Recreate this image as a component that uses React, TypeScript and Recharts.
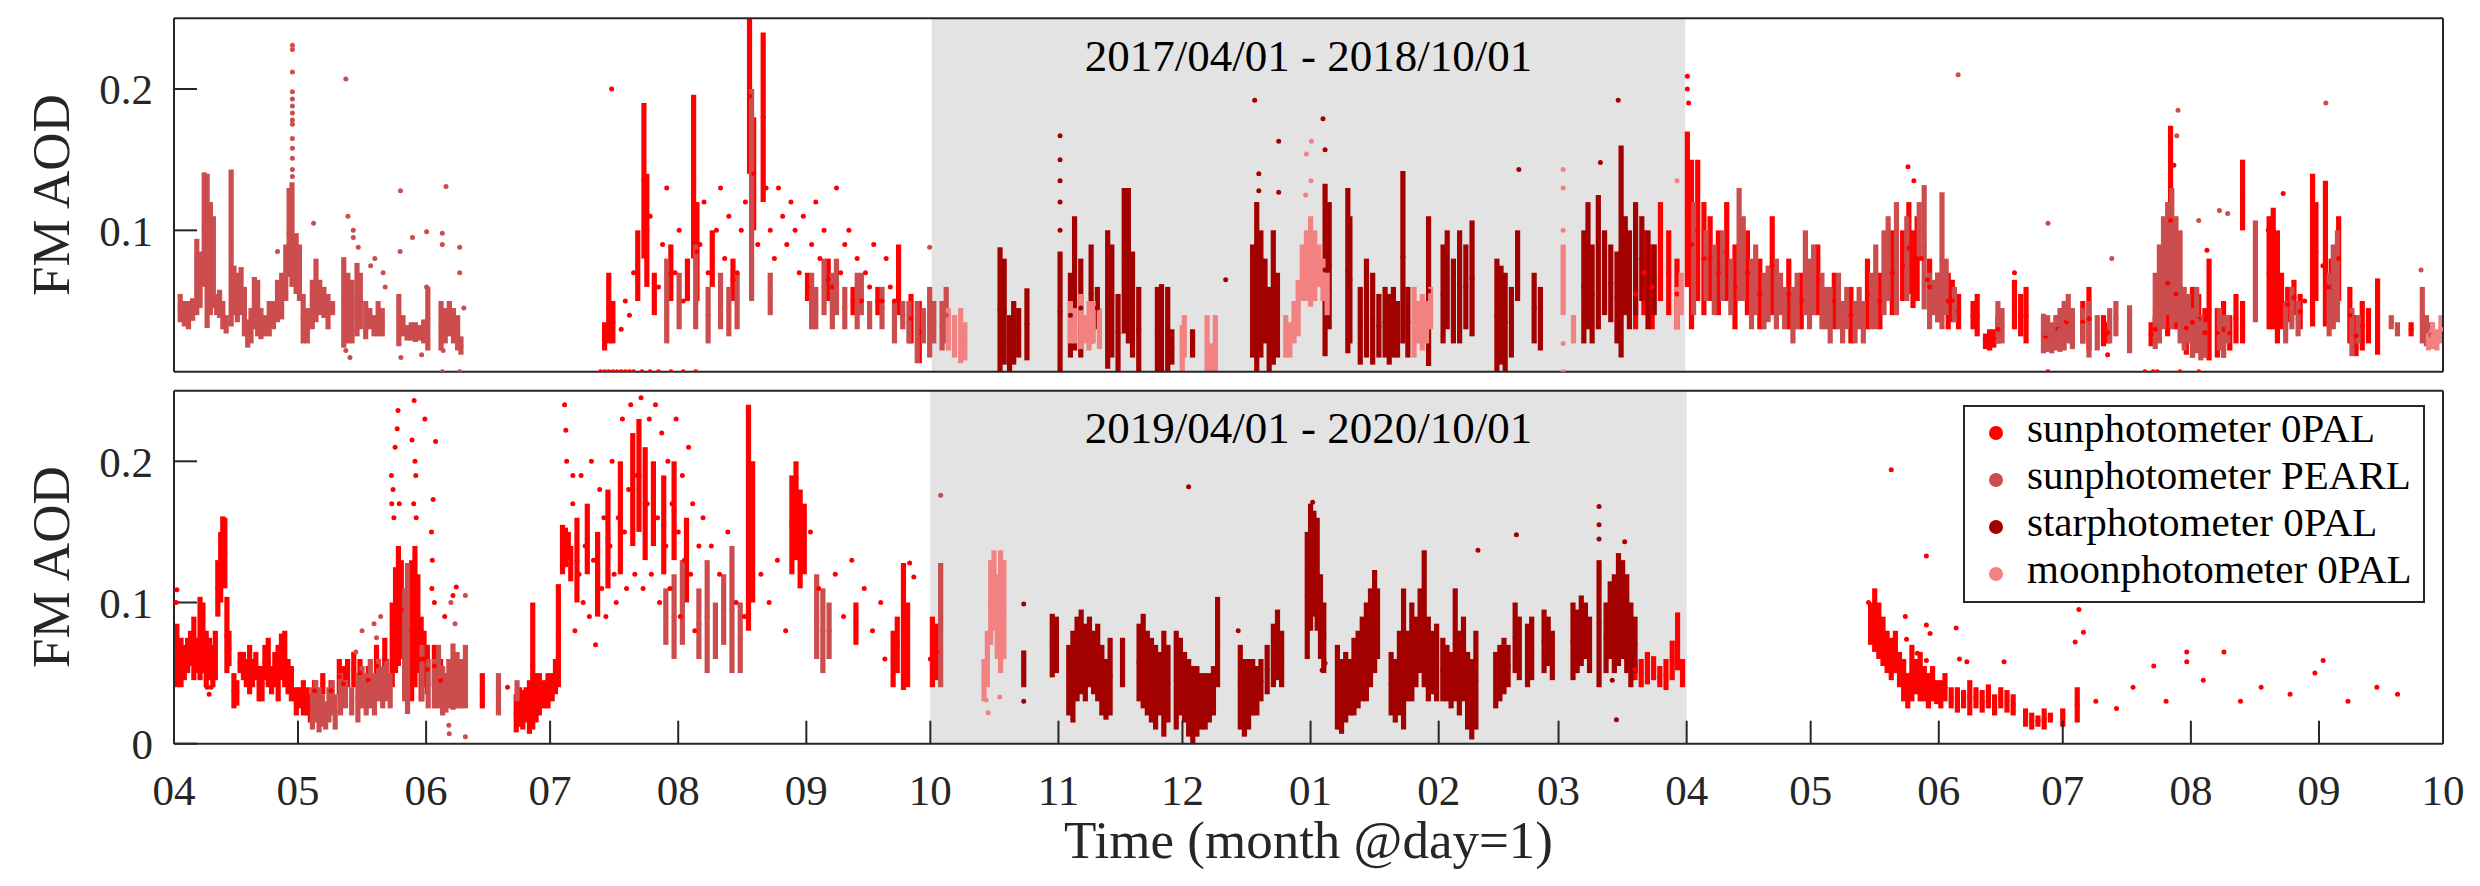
import { ScatterChart, Scatter, XAxis, YAxis, ErrorBar, ReferenceArea, Legend } from 'recharts'

const FONT = "'Liberation Serif', 'Times New Roman', serif"
const INK = '#262626'

const SUN_0PAL = '#ff0000'
const SUN_PEARL = '#cc4d4d'
const STAR_0PAL = '#a30000'
const MOON_0PAL = '#f28282'

const monthLabels = ['04', '05', '06', '07', '08', '09', '10', '11', '12', '01', '02', '03', '04', '05', '06', '07', '08', '09', '10']
const monthDays2017 = [30, 31, 30, 31, 31, 30, 31, 30, 31, 31, 28, 31, 30, 31, 30, 31, 31, 30]
const monthDays2019 = [30, 31, 30, 31, 31, 30, 31, 30, 31, 31, 29, 31, 30, 31, 30, 31, 31, 30]

const instruments = [
  { name: 'sunphotometer 0PAL', color: SUN_0PAL },
  { name: 'sunphotometer PEARL', color: SUN_PEARL },
  { name: 'starphotometer 0PAL', color: STAR_0PAL },
  { name: 'moonphotometer 0PAL', color: MOON_0PAL },
]

// each entry: [day since 04/01, low AOD, high AOD]; a single reading has no high value
type Obs = number[]

// ---- 2017/04/01 - 2018/10/01 ----
const topSun: Obs[] = [
  [103, 0], [104, 0], [105, 0], [106, 0], [107, 0], [108, 0], [109, 0], [110, 0], [111, 0], [113, 0], [115, 0], [117, 0], [120, 0], [123, 0], [126, 0],
  [104, 0.015, 0.035], [105, 0.02, 0.07], [106, 0.02, 0.05], [105.7, 0.2],
  [112, 0.05, 0.1], [113.5, 0.08, 0.19], [114.2, 0.06, 0.14], [116, 0.04, 0.07], [120, 0.05, 0.09], [124, 0.05, 0.08], [125.5, 0.08, 0.196],
  [126.3, 0.05, 0.12], [130, 0.06, 0.1], [135, 0.05, 0.08], [139, 0.14, 0.25], [140, 0.1, 0.18], [142.3, 0.12, 0.24], [153, 0.05, 0.07],
  [158, 0.05, 0.08], [164, 0.04, 0.06], [170, 0.04, 0.06], [175, 0.04, 0.09], [178, 0.02, 0.055], [180, 0.006, 0.05],
  [108, 0.03], [109, 0.05], [110, 0.04], [111, 0.07], [115, 0.11], [117, 0.06], [118, 0.09], [119, 0.13], [121, 0.07], [122, 0.1], [123, 0.05],
  [127, 0.09], [128, 0.12], [129, 0.07], [131, 0.1], [132, 0.13], [133, 0.08], [134, 0.11], [136, 0.07], [137, 0.1], [138, 0.12], [141, 0.09],
  [143, 0.13], [144, 0.1], [145, 0.08], [146, 0.13], [147, 0.11], [148, 0.09], [149, 0.12], [150, 0.1], [151, 0.07], [152, 0.11], [154, 0.09],
  [155, 0.12], [156, 0.08], [157, 0.1], [159, 0.06], [160, 0.13], [161, 0.07], [162, 0.09], [163, 0.1], [165, 0.08], [166, 0.05], [167, 0.07],
  [168, 0.06], [169, 0.09], [171, 0.05], [172, 0.08], [173, 0.06], [174, 0.05],
  [353, 0.03, 0.08], [355, 0.04, 0.1], [357, 0.03, 0.09], [359, 0.05, 0.12], [361, 0.04, 0.1], [363, 0.03, 0.08], [365.5, 0.06, 0.17], [366.5, 0.03, 0.15],
  [365.5, 0.2], [365.5, 0.209], [365.8, 0.19],
  [368, 0.05, 0.15], [369.5, 0.04, 0.12], [371, 0.05, 0.11], [373, 0.04, 0.1], [375, 0.05, 0.12], [377, 0.03, 0.09], [380, 0.04, 0.1], [383, 0.03, 0.08],
  [386, 0.04, 0.11], [390, 0.03, 0.08], [393, 0.03, 0.07], [397, 0.04, 0.09], [401, 0.03, 0.07], [405, 0.02, 0.06], [409, 0.03, 0.08], [412, 0.03, 0.07],
  [415, 0.04, 0.1],
  [417.5, 0.05, 0.1], [419, 0.055, 0.12], [420, 0.045, 0.1], [421, 0.05, 0.11], [418.8, 0.145], [420.2, 0.135], [424, 0.04, 0.08], [426, 0.035, 0.07],
  [428.5, 0.03, 0.07], [429.5, 0.035, 0.065], [431, 0.03, 0.055], [434.5, 0.03, 0.05], [435.5, 0.025, 0.055], [437.5, 0.016, 0.027], [438.5, 0.015, 0.03],
  [439.5, 0.017, 0.03], [440.5, 0.02, 0.04], [444.5, 0.03, 0.065], [446, 0.025, 0.055], [447.3, 0.02, 0.06], [452, 0.015, 0.035], [455, 0.02, 0.04],
  [457, 0.025, 0.045], [461, 0.02, 0.05], [462.5, 0.015, 0.06], [466, 0.018, 0.04], [467, 0.02, 0.035], [477.5, 0.018, 0.035], [478.5, 0.02, 0.04],
  [481.5, 0.025, 0.1], [482.2, 0.04, 0.174], [483.5, 0.03, 0.08], [486, 0.012, 0.05], [487.5, 0.01, 0.06], [489, 0.02, 0.055], [490.5, 0.01, 0.045],
  [491.5, 0.008, 0.08], [493.5, 0.01, 0.045], [495, 0.01, 0.05], [496.5, 0.015, 0.04], [498, 0.02, 0.055], [499.6, 0.1, 0.15], [499.6, 0.02, 0.05],
  [506, 0.03, 0.11], [507, 0.03, 0.116], [508, 0.02, 0.1], [509, 0.03, 0.07], [510.5, 0.035, 0.06], [512, 0.04, 0.065], [513.5, 0.03, 0.055],
  [516.5, 0.032, 0.14], [517.3, 0.05, 0.12], [519.6, 0.032, 0.135], [521, 0.04, 0.08], [522.8, 0.05, 0.11], [525.5, 0.02, 0.06], [527, 0.011, 0.04],
  [528.5, 0.015, 0.05], [530, 0.02, 0.045], [532.2, 0.012, 0.066], [540.3, 0.025, 0.035],
  [422, 0.08], [423.5, 0.065], [444.5, 0.07], [452.6, 0], [467, 0.012], [476, 0], [478, 0], [479, 0], [484.5, 0], [489, 0], [491, 0.086], [505.8, 0.1],
  [509.4, 0.126], [514.6, 0.05], [519, 0.075], [520, 0.06], [483, 0.146],
]

const topPearl: Obs[] = [
  [1.5, 0.035, 0.055], [2.5, 0.032, 0.05], [3.5, 0.03, 0.05], [4.5, 0.036, 0.052], [5.5, 0.04, 0.094], [6.3, 0.045, 0.085], [7.3, 0.06, 0.141],
  [8, 0.031, 0.14], [8.8, 0.04, 0.12], [9.5, 0.045, 0.11], [10.3, 0.04, 0.055], [11, 0.038, 0.058], [11.8, 0.03, 0.05], [12.6, 0.027, 0.04],
  [13.8, 0.032, 0.143], [14.5, 0.04, 0.075], [15.3, 0.035, 0.07], [16.2, 0.04, 0.074], [17, 0.025, 0.06], [17.8, 0.017, 0.037], [18.6, 0.02, 0.045],
  [19.4, 0.03, 0.067], [20.2, 0.025, 0.065], [21, 0.023, 0.045], [22, 0.025, 0.04], [23, 0.025, 0.05], [24, 0.03, 0.05], [25, 0.035, 0.065],
  [26, 0.037, 0.07], [27, 0.05, 0.09], [27.8, 0.067, 0.13], [28.5, 0.06, 0.134],
  [28.6, 0.231], [28.6, 0.228], [28.6, 0.212], [28.6, 0.198], [28.6, 0.193], [28.6, 0.188], [28.6, 0.183], [28.6, 0.178], [28.6, 0.175],
  [28.6, 0.165], [28.6, 0.158], [28.6, 0.151], [28.6, 0.143], [28.6, 0.138],
  [29.5, 0.055, 0.098], [30.3, 0.05, 0.09], [31.2, 0.02, 0.055], [32.2, 0.02, 0.045], [33.4, 0.03, 0.065], [34.3, 0.035, 0.08], [35.2, 0.04, 0.065],
  [36.2, 0.038, 0.06], [37.2, 0.03, 0.055], [38.3, 0.04, 0.05], [41, 0.017, 0.081], [42, 0.02, 0.07], [43, 0.02, 0.065], [44.2, 0.025, 0.077],
  [45, 0.03, 0.07], [46.3, 0.023, 0.05], [47.3, 0.03, 0.045], [48.3, 0.025, 0.04], [49.3, 0.025, 0.05], [50.3, 0.025, 0.045], [54.3, 0.018, 0.055],
  [55.3, 0.025, 0.04], [56.3, 0.022, 0.033], [57.3, 0.022, 0.035], [58.3, 0.021, 0.035], [59.3, 0.022, 0.033], [60.3, 0.02, 0.037], [61.3, 0.015, 0.06],
  [64.5, 0.015, 0.05], [65.5, 0.02, 0.045], [66.5, 0.025, 0.05], [67.5, 0.02, 0.045], [68.5, 0.015, 0.04], [69.3, 0.012, 0.025],
  [33.7, 0.105], [41.5, 0.207], [42, 0.11], [43.3, 0.1], [43.3, 0.095], [44.5, 0.088], [47.5, 0.075], [48.5, 0.08], [50.5, 0.07], [51, 0.06],
  [54.7, 0.128], [54.6, 0.085], [54.8, 0.01], [57.6, 0.095], [61, 0.099], [61, 0.06], [64.8, 0.098], [64.8, 0.09], [65.7, 0.131], [69, 0.088],
  [69, 0.07], [69, 0], [64.8, 0], [41.5, 0.015], [42.5, 0.01], [59.8, 0.012], [65, 0.015], [70, 0.045], [25, 0.085],
  [119, 0.02, 0.08], [122, 0.03, 0.07], [126, 0.03, 0.09], [129, 0.02, 0.06], [132, 0.03, 0.07], [134, 0.025, 0.06], [136, 0.03, 0.07],
  [139.5, 0.05, 0.2], [144, 0.04, 0.07], [154, 0.03, 0.07], [155, 0.03, 0.06], [157, 0.04, 0.08], [159, 0.03, 0.07], [160, 0.04, 0.08],
  [162, 0.03, 0.06], [165, 0.03, 0.07], [166, 0.04, 0.07], [168, 0.03, 0.05], [171, 0.03, 0.06], [174, 0.02, 0.05], [176, 0.03, 0.05],
  [177.5, 0.02, 0.05], [179.5, 0.006, 0.05], [181, 0.02, 0.045], [182.5, 0.01, 0.06], [183.5, 0.02, 0.05], [185.5, 0.015, 0.05], [186.5, 0.02, 0.06],
  [182.5, 0.088],
  [367, 0.04, 0.12], [370, 0.05, 0.1], [372, 0.04, 0.09], [374, 0.05, 0.1], [376, 0.04, 0.08], [378, 0.05, 0.13], [379, 0.05, 0.11], [381, 0.03, 0.08],
  [382, 0.04, 0.09], [384, 0.03, 0.07], [385, 0.035, 0.075], [387, 0.03, 0.08], [388, 0.04, 0.07], [389, 0.03, 0.06], [391, 0.02, 0.06],
  [392, 0.03, 0.07], [394, 0.04, 0.1], [395, 0.03, 0.08], [396, 0.04, 0.09], [398, 0.03, 0.07], [399, 0.03, 0.06], [400, 0.02, 0.06],
  [402, 0.03, 0.07], [403, 0.02, 0.05], [404, 0.03, 0.06], [406, 0.02, 0.05], [407, 0.03, 0.06], [408, 0.02, 0.05], [410, 0.03, 0.07],
  [411, 0.03, 0.09], [413, 0.04, 0.1], [414, 0.05, 0.11], [416, 0.04, 0.12],
  [418.5, 0.05, 0.11], [421.5, 0.08, 0.12], [422.7, 0.044, 0.132], [424, 0.03, 0.07], [425, 0.04, 0.065], [426, 0.035, 0.07], [427, 0.03, 0.127],
  [428, 0.04, 0.08], [430, 0.035, 0.06], [440.5, 0.02, 0.05], [441.5, 0.02, 0.045], [451.5, 0.013, 0.041], [452.5, 0.014, 0.04], [453.5, 0.013, 0.035],
  [454.5, 0.015, 0.04], [455.5, 0.014, 0.045], [456.5, 0.015, 0.05], [457.5, 0.02, 0.055], [458.5, 0.016, 0.045], [461, 0.02, 0.045],
  [462.5, 0.01, 0.05], [464.5, 0.015, 0.04], [467.5, 0.02, 0.045], [469, 0.025, 0.05], [472.3, 0.013, 0.047], [478.5, 0.016, 0.07],
  [479.5, 0.02, 0.09], [480.5, 0.03, 0.11], [481.5, 0.04, 0.12], [482.5, 0.03, 0.13], [483.5, 0.035, 0.11], [484.5, 0.02, 0.1], [485.5, 0.015, 0.06],
  [486.5, 0.02, 0.055], [487.5, 0.01, 0.045], [488.5, 0.013, 0.06], [489.5, 0.008, 0.04], [490.5, 0.01, 0.035], [494, 0.015, 0.045],
  [495, 0.01, 0.04], [496, 0.02, 0.04], [502.7, 0.035, 0.107], [510, 0.02, 0.05], [511.5, 0.03, 0.06], [513, 0.025, 0.05], [520.5, 0.025, 0.07],
  [521.5, 0.03, 0.09], [522.5, 0.035, 0.1], [526, 0.011, 0.045], [527.5, 0.02, 0.04], [535.5, 0.03, 0.04], [537, 0.025, 0.035], [543, 0.02, 0.06],
  [544, 0.018, 0.04], [545, 0.017, 0.035],
  [430.9, 0.21], [452.6, 0.105], [468, 0.08], [484, 0.185], [483.7, 0.167], [489, 0.107], [494, 0.114], [496, 0.112], [519.7, 0.19], [542.7, 0.072],
]

const topStar: Obs[] = [
  [199.5, 0, 0.088], [200.5, 0.005, 0.08], [201.8, 0, 0.04], [202.8, 0.005, 0.05], [204, 0.01, 0.045], [206, 0.008, 0.059],
  [214, 0, 0.085], [214, 0.1], [214, 0.12], [214, 0.135], [214, 0.15], [214, 0.167],
  [216.5, 0.01, 0.07], [217.5, 0.015, 0.11], [219, 0.01, 0.08], [221.5, 0.02, 0.09], [223, 0.03, 0.06],
  [225.5, 0.002, 0.1], [226.5, 0.01, 0.09], [228, 0, 0.055], [229.5, 0.027, 0.13], [230.5, 0.02, 0.13], [231.5, 0.01, 0.085], [233, 0, 0.06],
  [237.5, 0, 0.06], [238.5, 0, 0.062], [240, 0, 0.06], [241, 0.005, 0.03], [246, 0.01, 0.03], [254, 0.065],
  [260.5, 0.01, 0.09], [261.5, 0, 0.12], [262.5, 0.01, 0.1], [263.5, 0.02, 0.08], [264.5, 0, 0.06], [265.5, 0.005, 0.1], [266.5, 0.01, 0.07],
  [261, 0.192], [262, 0.14], [262, 0.128], [266.8, 0.163], [266.8, 0.127],
  [278, 0.011, 0.133], [279, 0.03, 0.12], [277.5, 0.179], [278, 0.157], [283.5, 0.013, 0.13], [284, 0.02, 0.11], [286.5, 0.005, 0.06],
  [288, 0.01, 0.08], [289.5, 0.005, 0.07], [291, 0.01, 0.055], [292.5, 0.01, 0.06], [293.5, 0.005, 0.055], [294.5, 0.01, 0.06], [295.5, 0.01, 0.05],
  [296.8, 0.02, 0.142], [298, 0.01, 0.06],
  [303, 0.004, 0.11], [306.5, 0.02, 0.09], [307.5, 0.03, 0.1], [309, 0.02, 0.08], [310.5, 0.02, 0.1], [312, 0.03, 0.09], [313.5, 0.025, 0.107],
  [319.5, 0, 0.08], [320.5, 0.005, 0.075], [321.5, 0, 0.07], [323, 0.01, 0.06], [324.5, 0.05, 0.1], [324.8, 0.143], [328.5, 0.02, 0.07], [330, 0.015, 0.06],
  [340.5, 0.02, 0.1], [341.5, 0.03, 0.12], [342.5, 0.02, 0.09], [344, 0.03, 0.125], [345.5, 0.04, 0.1], [347, 0.035, 0.09], [348.5, 0.02, 0.085],
  [349.5, 0.01, 0.16], [350.5, 0.04, 0.11], [351.5, 0.03, 0.1], [353, 0.04, 0.12], [354.5, 0.05, 0.11], [356, 0.03, 0.1], [357.5, 0.04, 0.09],
  [348.8, 0.192], [344.5, 0.148],
]

const topMoon: Obs[] = [
  [187, 0.015, 0.045], [188.5, 0.01, 0.04], [190, 0.006, 0.045], [191, 0.008, 0.035],
  [216.5, 0.02, 0.05], [217.5, 0.02, 0.045], [219, 0.016, 0.055], [220, 0.02, 0.04], [221, 0.015, 0.05], [222, 0.02, 0.05], [223.5, 0.016, 0.045],
  [243.5, 0, 0.033], [244, 0.01, 0.04], [249.5, 0, 0.04], [250.5, 0, 0.02], [251.5, 0, 0.04],
  [268.5, 0.01, 0.04], [269.5, 0.01, 0.035], [270.5, 0.02, 0.05], [271.5, 0.025, 0.065],
  [272.5, 0.05, 0.09], [273.5, 0.05, 0.1], [274.5, 0.046, 0.11], [275.5, 0.05, 0.1], [276.5, 0.06, 0.09], [277.5, 0.05, 0.08], [278.5, 0.04, 0.07],
  [274.7, 0.163], [273.5, 0.154], [274.6, 0.135], [273.3, 0.125],
  [299.5, 0.01, 0.06], [300.5, 0.02, 0.05], [301.5, 0.015, 0.055], [302.5, 0.02, 0.05], [303.5, 0.03, 0.06],
  [335.5, 0.04, 0.09], [335.5, 0.143], [335.5, 0.13], [335.5, 0.1], [335.5, 0.02], [335.5, 0], [338, 0.02, 0.04],
  [363, 0.03, 0.06], [364, 0.04, 0.07], [363, 0.135],
  [544.5, 0.015, 0.03], [545.5, 0.016, 0.035], [546.5, 0.015, 0.03], [547.5, 0.02, 0.04],
]

// ---- 2019/04/01 - 2020/10/01 ----
const botSun: Obs[] = [
  [0.7, 0.04, 0.085], [1.7, 0.04, 0.075], [0.7, 0.109], [0.5, 0.1],
  [2.5, 0.045, 0.07], [3.3, 0.05, 0.075], [4, 0.055, 0.08], [4.8, 0.045, 0.09], [5.5, 0.05, 0.075], [6.3, 0.045, 0.104], [7, 0.05, 0.1],
  [7.8, 0.04, 0.08], [8.6, 0.045, 0.075], [9.4, 0.04, 0.07], [10, 0.045, 0.08], [8, 0.04], [8.5, 0.035], [9, 0.04],
  [10.6, 0.09, 0.13], [11.3, 0.1, 0.15], [11.8, 0.12, 0.161], [12.3, 0.11, 0.16], [12.8, 0.05, 0.104], [13.3, 0.055, 0.08],
  [14.5, 0.025, 0.05], [15.2, 0.027, 0.045],
  [16, 0.05, 0.065], [16.8, 0.045, 0.065], [17.5, 0.04, 0.06], [18.3, 0.035, 0.07], [19, 0.04, 0.06], [19.8, 0.045, 0.065], [20.6, 0.03, 0.055],
  [21.3, 0.03, 0.055], [22, 0.045, 0.07], [22.8, 0.04, 0.075], [23.6, 0.035, 0.055], [24.4, 0.04, 0.065], [25.2, 0.03, 0.07], [26, 0.045, 0.078],
  [26.8, 0.04, 0.08], [27.6, 0.035, 0.06], [28.4, 0.03, 0.055],
  [29.6, 0.02, 0.04], [30.5, 0.025, 0.04], [31.3, 0.02, 0.045], [32.2, 0.02, 0.04], [33, 0.015, 0.035],
  [34, 0.03, 0.045], [36, 0.035, 0.05], [38, 0.03, 0.045], [40, 0.035, 0.06], [41, 0.03, 0.055], [42, 0.04, 0.06], [43.5, 0.04, 0.065],
  [45, 0.04, 0.06], [47, 0.035, 0.055], [49, 0.04, 0.07], [51, 0.045, 0.075],
  [52.8, 0.04, 0.1], [53.6, 0.05, 0.125], [54.3, 0.055, 0.14], [55, 0.06, 0.13],
  [54.2, 0.236], [54, 0.223], [53.5, 0.21], [52.6, 0.19], [53, 0.18], [54.5, 0.17], [53.2, 0.16], [52.7, 0.17],
  [57.5, 0.03, 0.13], [58.3, 0.04, 0.14], [59, 0.05, 0.12], [58.1, 0.243], [57.6, 0.215], [58.3, 0.2], [58.5, 0.19], [58, 0.17], [58.6, 0.16],
  [59.8, 0.03, 0.09], [60.5, 0.04, 0.08], [61.3, 0.035, 0.07], [60.7, 0.23], [63.3, 0.214], [62.7, 0.173], [62.3, 0.15], [62.4, 0.11], [62.5, 0.13],
  [63, 0.04, 0.07], [64.5, 0.03, 0.06], [63, 0.1], [65.5, 0.09], [68.3, 0.111], [67.5, 0.105],
  [74.6, 0.025, 0.05], [80.7, 0.04],
  [82.8, 0.008, 0.035], [83.6, 0.012, 0.04], [84.4, 0.01, 0.038], [85.2, 0.015, 0.04], [86, 0.007, 0.045], [86.8, 0.01, 0.1], [87.6, 0.015, 0.05],
  [88.4, 0.02, 0.05], [89.5, 0.025, 0.045], [90.5, 0.025, 0.05], [91.5, 0.03, 0.05], [92.3, 0.035, 0.06], [93, 0.04, 0.113],
  [94, 0.12, 0.155], [94.7, 0.125, 0.153], [95.4, 0.13, 0.15], [96, 0.115, 0.14], [94.5, 0.24], [94.8, 0.222], [95, 0.2], [96.5, 0.19],
  [97.5, 0.1, 0.16], [100, 0.12, 0.17], [102.5, 0.09, 0.15], [105, 0.11, 0.18], [108, 0.12, 0.2], [111, 0.14, 0.22], [112.5, 0.15, 0.23],
  [114, 0.13, 0.21], [116, 0.14, 0.2], [118.5, 0.12, 0.19], [121, 0.13, 0.2], [124, 0.1, 0.16],
  [96.5, 0.17], [97, 0.08], [98, 0.12], [98.5, 0.19], [99, 0.1], [99.5, 0.14], [100.5, 0.09], [101, 0.2], [101.5, 0.13], [102, 0.07], [103, 0.18],
  [103.5, 0.11], [104, 0.16], [104.5, 0.09], [105.5, 0.14], [106, 0.2], [106.5, 0.12], [107, 0.1], [107.5, 0.16], [108.5, 0.23], [109, 0.15],
  [109.5, 0.11], [110, 0.18], [110.5, 0.24], [111.5, 0.12], [112, 0.19], [113, 0.245], [113.5, 0.11], [114.5, 0.17], [115, 0.23], [115.5, 0.12],
  [116.5, 0.24], [117, 0.16], [117.5, 0.1], [118, 0.22], [119, 0.14], [119.5, 0.2], [120, 0.11], [120.5, 0.17], [121.5, 0.23], [122, 0.15],
  [122.5, 0.09], [123, 0.19], [123.5, 0.13], [124.5, 0.21], [125, 0.12], [125.5, 0.17], [126, 0.08], [127, 0.14], [128, 0.16],
  [139, 0.08, 0.24], [140, 0.1, 0.2], [149.5, 0.12, 0.19], [150.5, 0.13, 0.2], [151.5, 0.11, 0.18], [152.5, 0.12, 0.17], [165, 0.07, 0.1],
  [174, 0.04, 0.08], [175, 0.05, 0.09], [176.5, 0.038, 0.128], [177.5, 0.04, 0.1],
  [130, 0.14], [132, 0.12], [134, 0.15], [136, 0.1], [138, 0.09], [142, 0.12], [144, 0.1], [146, 0.13], [148, 0.08], [154, 0.15], [156, 0.11],
  [160, 0.12], [162, 0.09], [164, 0.13], [167, 0.11], [169, 0.08], [171, 0.1], [172, 0.06], [178, 0.128], [179, 0.118],
  [183.5, 0.04, 0.09], [184.5, 0.045, 0.085], [183, 0.06],
  [353.5, 0.045, 0.06], [355, 0.04, 0.06], [356.5, 0.042, 0.065], [358, 0.045, 0.062], [359.5, 0.04, 0.055], [361, 0.038, 0.06], [362.5, 0.045, 0.073],
  [363.8, 0.052, 0.093], [365, 0.04, 0.06],
  [410.5, 0.07, 0.1], [411.5, 0.065, 0.11], [412.5, 0.06, 0.1], [413.5, 0.055, 0.09], [414.5, 0.05, 0.08], [415.5, 0.045, 0.075], [416.5, 0.05, 0.08],
  [415.5, 0.194], [410, 0.1],
  [417.5, 0.04, 0.065], [418.5, 0.03, 0.06], [419.5, 0.025, 0.05], [420.5, 0.03, 0.07],
  [418.9, 0.09], [424, 0.133], [424, 0.084], [424.9, 0.078], [431.2, 0.082], [419.2, 0.074], [421.8, 0.064], [424, 0.059], [432, 0.06], [433.8, 0.058],
  [442.8, 0.058], [460.9, 0.095], [462, 0.079], [460, 0.072], [479, 0.055], [487, 0.065], [487, 0.058], [496, 0.065], [520, 0.059],
  [421.5, 0.035, 0.06], [422.5, 0.03, 0.065], [423.5, 0.03, 0.055], [424.5, 0.025, 0.05], [425.5, 0.03, 0.055], [426.5, 0.028, 0.045],
  [427.5, 0.025, 0.045], [428.5, 0.03, 0.05], [430, 0.025, 0.04], [431.5, 0.022, 0.04], [433, 0.025, 0.038], [434.5, 0.02, 0.045], [436, 0.025, 0.04],
  [437.5, 0.022, 0.038], [439, 0.025, 0.042], [440.5, 0.02, 0.035], [442, 0.025, 0.04], [443.5, 0.022, 0.038], [445, 0.02, 0.035], [448, 0.012, 0.025],
  [449.5, 0.01, 0.022], [451, 0.012, 0.02], [452.5, 0.01, 0.025], [454, 0.015, 0.022], [457, 0.012, 0.025], [460.5, 0.015, 0.04],
  [465, 0.03], [470, 0.025], [474, 0.04], [482, 0.03], [491, 0.045], [500, 0.03], [505, 0.04], [512, 0.035], [518, 0.05], [526, 0.03], [533, 0.04],
  [538, 0.035],
]

const botPearl: Obs[] = [
  [33.5, 0.01, 0.04], [34.3, 0.015, 0.045], [35.1, 0.008, 0.04], [35.9, 0.012, 0.035], [36.7, 0.01, 0.03], [37.5, 0.015, 0.04], [38.3, 0.02, 0.045],
  [39, 0.01, 0.035], [40.3, 0.02, 0.05], [41.5, 0.025, 0.045], [43, 0.02, 0.04],
  [44.5, 0.015, 0.05], [45.5, 0.025, 0.055], [46.5, 0.02, 0.05], [47.5, 0.025, 0.06], [48.5, 0.02, 0.05], [49.5, 0.03, 0.06], [50.5, 0.025, 0.055],
  [51.5, 0.03, 0.06], [52.3, 0.025, 0.05], [44, 0.065], [45.5, 0.08], [48.4, 0.085], [49, 0.075], [50, 0.09],
  [55.8, 0.03, 0.11], [56.5, 0.021, 0.128], [60, 0.03, 0.07], [61.5, 0.025, 0.06],
  [63, 0.025, 0.06], [64, 0.025, 0.07], [65, 0.02, 0.055], [65.8, 0.022, 0.05],
  [66.5, 0.025, 0.06], [67.5, 0.024, 0.071], [68.5, 0.025, 0.065], [69.5, 0.025, 0.06], [70.5, 0.025, 0.07],
  [67, 0.1], [70.5, 0.105], [68, 0.085], [66.5, 0.013], [66.6, 0.007], [70.5, 0.005],
  [78.5, 0.02, 0.05], [83, 0.03, 0.045],
  [119, 0.07, 0.11], [121, 0.06, 0.12], [123, 0.07, 0.13], [127, 0.06, 0.11], [129, 0.05, 0.13], [131, 0.06, 0.1], [133, 0.07, 0.12],
  [135, 0.05, 0.14], [137, 0.05, 0.1], [155.5, 0.06, 0.12], [157, 0.05, 0.11], [158.5, 0.06, 0.1],
  [185.5, 0.04, 0.128], [185.5, 0.176],
]

const botStar: Obs[] = [
  [205.6, 0.04, 0.066], [205.6, 0.099], [205.6, 0.03], [212.5, 0.047, 0.092], [213.5, 0.05, 0.09],
  [216.5, 0.02, 0.07], [217.5, 0.015, 0.08], [218.5, 0.03, 0.09], [219.5, 0.035, 0.095], [220.5, 0.03, 0.085], [221.5, 0.04, 0.09], [222.5, 0.035, 0.08],
  [223.5, 0.03, 0.085], [224.5, 0.02, 0.07], [225.5, 0.017, 0.06], [226.5, 0.02, 0.075], [229.5, 0.04, 0.075],
  [233.5, 0.03, 0.085], [234.5, 0.025, 0.092], [235.5, 0.02, 0.08], [236.5, 0.015, 0.075], [237.5, 0.01, 0.07], [238.5, 0.02, 0.065],
  [239.5, 0.005, 0.08], [240.5, 0.015, 0.07],
  [242.5, 0.01, 0.08], [243.5, 0.02, 0.075], [244.5, 0.015, 0.065], [245.5, 0.005, 0.06], [246.5, 0, 0.055], [247.5, 0.005, 0.055], [248.5, 0.01, 0.05],
  [249.5, 0.01, 0.05], [250.5, 0.015, 0.05], [251.5, 0.02, 0.055], [252.5, 0.04, 0.104], [245.5, 0.182],
  [258, 0.01, 0.07], [259, 0.005, 0.06], [260, 0.01, 0.06], [261, 0.02, 0.06], [262, 0.02, 0.055], [263, 0.03, 0.06], [264.5, 0.035, 0.07],
  [266, 0.04, 0.085], [267, 0.045, 0.095], [268, 0.04, 0.08], [257.5, 0.08],
  [274.2, 0.06, 0.15], [275, 0.08, 0.17], [275.8, 0.09, 0.165], [276.6, 0.08, 0.16], [277.4, 0.06, 0.12], [278.2, 0.05, 0.1], [275.5, 0.171],
  [278.5, 0.057], [277.8, 0.052],
  [281.5, 0.01, 0.07], [282.5, 0.007, 0.06], [283.5, 0.015, 0.065], [284.5, 0.02, 0.06], [285.5, 0.02, 0.075], [286.5, 0.025, 0.08], [287.5, 0.03, 0.09],
  [288.5, 0.03, 0.1], [289.5, 0.04, 0.11], [290.5, 0.05, 0.123], [291.2, 0.06, 0.11],
  [294.5, 0.02, 0.065], [295.5, 0.015, 0.06], [296.5, 0.02, 0.08], [297.5, 0.01, 0.11], [298.5, 0.03, 0.08],
  [299.5, 0.03, 0.1], [300.5, 0.04, 0.09], [301.5, 0.05, 0.11], [302.5, 0.04, 0.137], [303.5, 0.03, 0.09], [304.5, 0.035, 0.08], [305.5, 0.03, 0.085],
  [307, 0.03, 0.075], [308, 0.03, 0.07], [309, 0.025, 0.065], [310, 0.03, 0.11], [311, 0.02, 0.08], [312, 0.03, 0.09], [313, 0.01, 0.065],
  [314, 0.003, 0.06], [315, 0.01, 0.08], [315.5, 0.137],
  [319.8, 0.025, 0.065], [320.8, 0.03, 0.07], [321.8, 0.035, 0.075], [322.8, 0.04, 0.07],
  [324.5, 0.05, 0.1], [325.5, 0.045, 0.09], [327.5, 0.04, 0.085], [328.5, 0.045, 0.09], [324.8, 0.148],
  [331.5, 0.05, 0.095], [332.5, 0.055, 0.09], [333.5, 0.045, 0.08],
  [338.5, 0.045, 0.1], [339.5, 0.05, 0.095], [340.5, 0.055, 0.105], [341.5, 0.06, 0.1], [342.5, 0.05, 0.09],
  [344.8, 0.04, 0.13], [344.8, 0.168], [344.8, 0.155], [344.8, 0.145],
  [346.5, 0.05, 0.1], [347.5, 0.06, 0.115], [348.5, 0.05, 0.12], [349.5, 0.055, 0.135], [350.5, 0.06, 0.13], [351.5, 0.05, 0.12], [352.5, 0.04, 0.1],
  [353.5, 0.05, 0.09], [351, 0.143], [349, 0.017], [348, 0.045],
]

const botMoon: Obs[] = [
  [196, 0.03, 0.06], [196.8, 0.04, 0.08], [197.6, 0.07, 0.13], [198.4, 0.08, 0.137], [199.2, 0.06, 0.12], [200, 0.05, 0.137], [200.8, 0.06, 0.13],
  [196.5, 0.031], [199.8, 0.033], [197, 0.022],
]

const toRows = (obs: Obs[]) => obs.map(o => {
  const lo = o[1]
  const hi = o.length > 2 ? o[2] : o[1]
  return { day: o[0], aod: (lo + hi) / 2, spread: (hi - lo) / 2 }
})

const monthStarts = (lengths: number[]) => lengths.reduce((acc, n) => [...acc, acc[acc.length - 1] + n], [0])

const axisLine = { stroke: INK, strokeWidth: 2 }
const tickFont = { fill: INK, fontSize: 43, fontFamily: FONT }

const PeriodLabel = ({ viewBox, text }: any) => (
  <text x={viewBox.x + viewBox.width / 2} y={viewBox.y + 52.5} textAnchor="middle" fontSize={45} fontFamily={FONT} fill="#000">{text}</text>
)

const YTitle = ({ viewBox }: any) => {
  const cy = viewBox.y + viewBox.height / 2
  return (
    <text x={69} y={cy} transform={`rotate(-90 69 ${cy})`} textAnchor="middle" fontSize={53} fontFamily={FONT} fill={INK}>FM AOD</text>
  )
}

const XTitle = ({ viewBox }: any) => (
  <text x={viewBox.x + viewBox.width / 2} y={viewBox.y + 114} textAnchor="middle" fontSize={53} fontFamily={FONT} fill={INK}>Time (month @day=1)</text>
)

// drawn from the fixed instrument list so the order stays as plotted
const LegendBox = () => (
  <svg width={462} height={198} style={{ display: 'block' }}>
    <rect x={1} y={1} width={460} height={196} fill="#fff" stroke={INK} strokeWidth={2} />
    {instruments.map((s, i) => (
      <g key={s.name}>
        <circle cx={33} cy={28 + i * 47} r={7} fill={s.color} />
        <text x={64} y={37 + i * 47} fontSize={41} fontFamily={FONT} fill="#000">{s.name}</text>
      </g>
    ))}
  </svg>
)

const Panel = ({ title, sun, pearl, star, moon, lengths, height, topPad, bottomPad, showTime }: any) => {
  const ticks = monthStarts(lengths)
  const end = ticks[ticks.length - 1]
  const series = [sun, pearl, star, moon].map((obs, i) => ({ ...instruments[i], obs }))
  return (
    <ScatterChart width={2480} height={height} margin={{ top: 0, right: 0, bottom: 0, left: 0 }}>
      <ReferenceArea x1={ticks[6]} x2={ticks[12]} y1={0} y2={0.25} fill="#e3e3e3" fillOpacity={1} stroke="none" label={<PeriodLabel text={title} />} />
      {series.map(s => (
        <Scatter
          key={s.name}
          name={s.name}
          data={toRows(s.obs)}
          fill={s.color}
          isAnimationActive={false}
          shape={(p: any) => <circle cx={p.cx} cy={p.cy} r={2.5} fill={s.color} />}
        >
          <ErrorBar dataKey="spread" direction="y" width={0} strokeWidth={5.2} stroke={s.color} isAnimationActive={false} />
        </Scatter>
      ))}
      <XAxis
        dataKey="day"
        type="number"
        domain={[0, end]}
        ticks={ticks}
        interval={0}
        height={bottomPad}
        tickSize={-23}
        tickMargin={54}
        axisLine={axisLine}
        tickLine={axisLine}
        tick={showTime ? tickFont : false}
        tickFormatter={(_v: number, i: number) => monthLabels[i]}
        label={showTime ? <XTitle /> : undefined}
        allowDataOverflow
      />
      <XAxis xAxisId="top" orientation="top" type="number" domain={[0, end]} ticks={ticks} interval={0} height={topPad} tickSize={-23} axisLine={axisLine} tickLine={axisLine} tick={false} />
      <YAxis
        dataKey="aod"
        type="number"
        domain={[0, 0.25]}
        ticks={[0, 0.1, 0.2]}
        width={174}
        tickSize={-23}
        tickMargin={44}
        axisLine={axisLine}
        tickLine={axisLine}
        tick={tickFont}
        label={<YTitle />}
        allowDataOverflow
      />
      <YAxis yAxisId="right" orientation="right" type="number" domain={[0, 0.25]} ticks={[0, 0.1, 0.2]} width={37} tickSize={-23} axisLine={axisLine} tickLine={axisLine} tick={false} />
      {showTime && (
        <Legend layout="vertical" align="center" verticalAlign="middle" wrapperStyle={{ left: 1963, top: 23, width: 462, height: 198 }} content={<LegendBox />} />
      )}
    </ScatterChart>
  )
}

export default function App() {
  return (
    <div style={{ position: 'relative', width: 2480, height: 886, background: '#fff', fontFamily: FONT }}>
      <style>{'body{margin:0}.recharts-surface{overflow:visible}'}</style>
      <div style={{ position: 'absolute', left: 0, top: 0 }}>
        <Panel title="2017/04/01 - 2018/10/01" sun={topSun} pearl={topPearl} star={topStar} moon={topMoon} lengths={monthDays2017}
          height={382} topPad={18.3} bottomPad={10.3} showTime={false} />
      </div>
      <div style={{ position: 'absolute', left: 0, top: 382 }}>
        <Panel title="2019/04/01 - 2020/10/01" sun={botSun} pearl={botPearl} star={botStar} moon={botMoon} lengths={monthDays2019}
          height={504} topPad={8.7} bottomPad={142.3} showTime />
      </div>
    </div>
  )
}
